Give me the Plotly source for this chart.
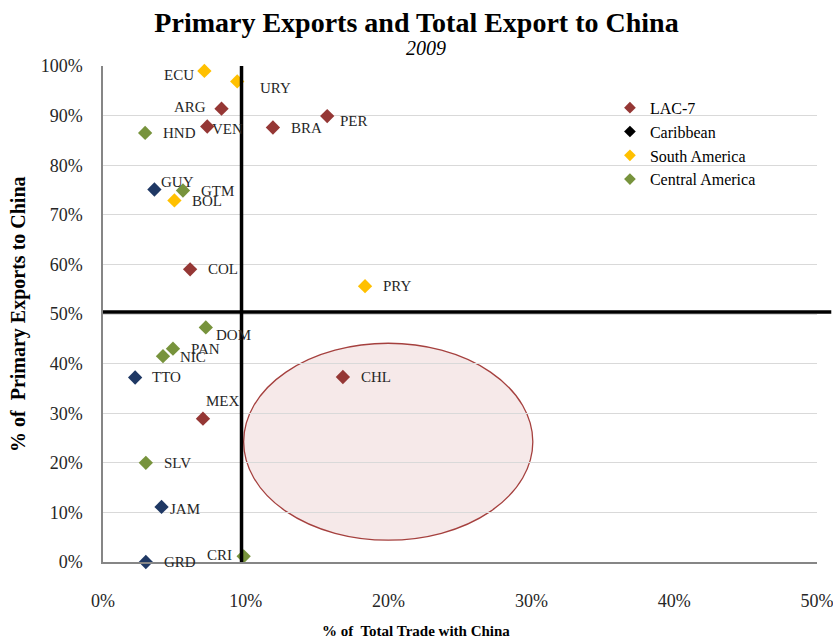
import plotly.graph_objects as go

# ---------------- data ----------------
countries = ["ARG", "BRA", "CHL", "COL", "MEX", "PER", "VEN",
             "GRD", "GUY", "JAM", "TTO",
             "BOL", "ECU", "PRY", "URY",
             "CRI", "DOM", "GTM", "HND", "NIC", "PAN", "SLV"]
groups = ["LAC-7"] * 7 + ["Caribbean"] * 4 + ["South America"] * 4 + ["Central America"] * 7
trade_share = [8.3, 11.9, 16.8, 6.1, 7.0, 15.7, 7.3,
               3.0, 3.6, 4.1, 2.25,
               5.0, 7.1, 18.35, 9.4,
               9.85, 7.2, 5.6, 2.95, 4.2, 4.9, 3.0]
primary_share = [91.4, 87.6, 37.3, 59.0, 28.9, 89.9, 87.8,
                 0.0, 75.1, 11.1, 37.2,
                 72.9, 99.0, 55.6, 96.9,
                 1.15, 47.3, 74.9, 86.5, 41.5, 43.0, 20.0]
group_names = ["LAC-7", "Caribbean", "South America", "Central America"]
x_ticks = [0, 10, 20, 30, 40, 50]
y_ticks = [0, 10, 20, 30, 40, 50, 60, 70, 80, 90, 100]
x_threshold = 9.7
y_threshold = 50.4
ellipse_x = [9.85, 30.1]
ellipse_y = [4.4, 44.1]

# ---------------- style ----------------
FONT = "Liberation Serif"
point_colors = {"LAC-7": "#953735", "Caribbean": "#1F3864",
                "South America": "#FFC000", "Central America": "#77933C"}
legend_colors = {"LAC-7": "#953735", "Caribbean": "#000000",
                 "South America": "#FFC000", "Central America": "#77933C"}
# label offsets (xanchor, xshift, yshift) in pixels
label_style = {
    "ECU": ("right", -8, -4), "URY": ("left", 21, -7), "ARG": ("right", -14, 2),
    "VEN": ("left", 3, -2), "HND": ("left", 16, 0), "BRA": ("left", 16, 0),
    "PER": ("left", 11, -5), "GUY": ("left", 5, 8), "GTM": ("left", 16, 0),
    "BOL": ("left", 16, -1), "COL": ("left", 16, 0), "DOM": ("left", 8, -8),
    "PAN": ("left", 16, 0), "NIC": ("left", 15, -1), "TTO": ("left", 15, 0),
    "CHL": ("left", 16, 0), "PRY": ("left", 16, 0), "MEX": ("left", 1, 18),
    "SLV": ("left", 16, 0), "JAM": ("left", 6, -2), "GRD": ("left", 16, 0),
    "CRI": ("right", -10, 1),
}

W, H = 833, 644

fig = go.Figure()

for g in group_names:
    xs = [x for x, gg in zip(trade_share, groups) if gg == g]
    ys = [y for y, gg in zip(primary_share, groups) if gg == g]
    fig.add_trace(go.Scatter(
        x=xs, y=ys, mode="markers", showlegend=False,
        marker=dict(symbol="diamond", size=11, color=point_colors[g]),
        cliponaxis=False,
    ))

# legend entries
for g in group_names:
    fig.add_trace(go.Scatter(
        x=[None], y=[None], mode="markers", name=g,
        marker=dict(symbol="diamond", size=9, color=legend_colors[g]),
    ))

annotations = []
for c, x, y in zip(countries, trade_share, primary_share):
    anchor, dx, dy = label_style[c]
    annotations.append(dict(
        x=x, y=y, xref="x", yref="y", text=c, showarrow=False,
        xanchor=anchor, yanchor="middle", xshift=dx, yshift=dy,
        font=dict(family=FONT, size=15, color="#262626"),
    ))

annotations += [
    dict(text="<i>2009</i>", xref="paper", yref="paper", x=0.452, y=1.0,
         yshift=18, xanchor="center", yanchor="middle", showarrow=False,
         font=dict(family=FONT, size=20, color="#000000")),
    dict(text="<b>% of  Total Trade with China</b>", xref="paper", yref="paper",
         x=0.438, y=0, yshift=-69, xanchor="center", yanchor="middle", showarrow=False,
         font=dict(family=FONT, size=15, color="#000000")),
    dict(text="<b>% of  Primary Exports to China</b>", xref="paper", yref="paper",
         x=0, y=0.5, xshift=-85, xanchor="center", yanchor="middle", showarrow=False,
         textangle=-90, font=dict(family=FONT, size=20, color="#000000")),
]

shapes = [
    dict(type="circle", xref="x", yref="y", x0=ellipse_x[0], x1=ellipse_x[1],
         y0=ellipse_y[0], y1=ellipse_y[1], layer="below",
         fillcolor="rgba(200,120,120,0.16)", line=dict(color="#A5403E", width=1.3)),
    dict(type="line", xref="x", yref="y", x0=x_threshold, x1=x_threshold,
         y0=0, y1=100, line=dict(color="#000000", width=3.5)),
    dict(type="line", xref="paper", yref="y", x0=0, x1=1.02,
         y0=y_threshold, y1=y_threshold, line=dict(color="#000000", width=3.5)),
]

fig.update_layout(
    width=W, height=H,
    margin=dict(l=103, r=16, t=66, b=82),
    paper_bgcolor="white", plot_bgcolor="white",
    title=dict(text="<b>Primary Exports and Total Export to China</b>",
               x=0.5, xref="container", xanchor="center",
               y=1 - 22 / H, yref="container", yanchor="middle",
               font=dict(family=FONT, size=28, color="#000000")),
    xaxis=dict(range=[0, 50], tickvals=x_ticks, ticktext=[f"{v}%" for v in x_ticks],
               showgrid=False, zeroline=False, showline=True, linecolor="#868686",
               linewidth=1.5, ticks="outside", ticklen=22, tickcolor="rgba(0,0,0,0)",
               ticklabeloverflow="allow", automargin=False,
               tickfont=dict(family=FONT, size=18, color="#262626")),
    yaxis=dict(range=[0, 100], tickvals=y_ticks, ticktext=[f"{v}%" for v in y_ticks],
               showgrid=True, gridcolor="#D9D9D9", gridwidth=1, zeroline=False,
               showline=True, linecolor="#868686", linewidth=1.5,
               ticks="outside", ticklen=15, tickcolor="rgba(0,0,0,0)",
               ticklabeloverflow="allow", automargin=False,
               tickfont=dict(family=FONT, size=18, color="#262626")),
    legend=dict(x=0.71, y=0.95, xanchor="left", yanchor="top",
                font=dict(family=FONT, size=16, color="#000000"),
                bgcolor="rgba(0,0,0,0)", itemwidth=30, tracegroupgap=0),
    annotations=annotations,
    shapes=shapes,
)

fig.write_html(
    "out.html",
    config={"displayModeBar": False},
    post_script="document.body.style.margin='0';document.body.style.overflow='hidden';",
)
